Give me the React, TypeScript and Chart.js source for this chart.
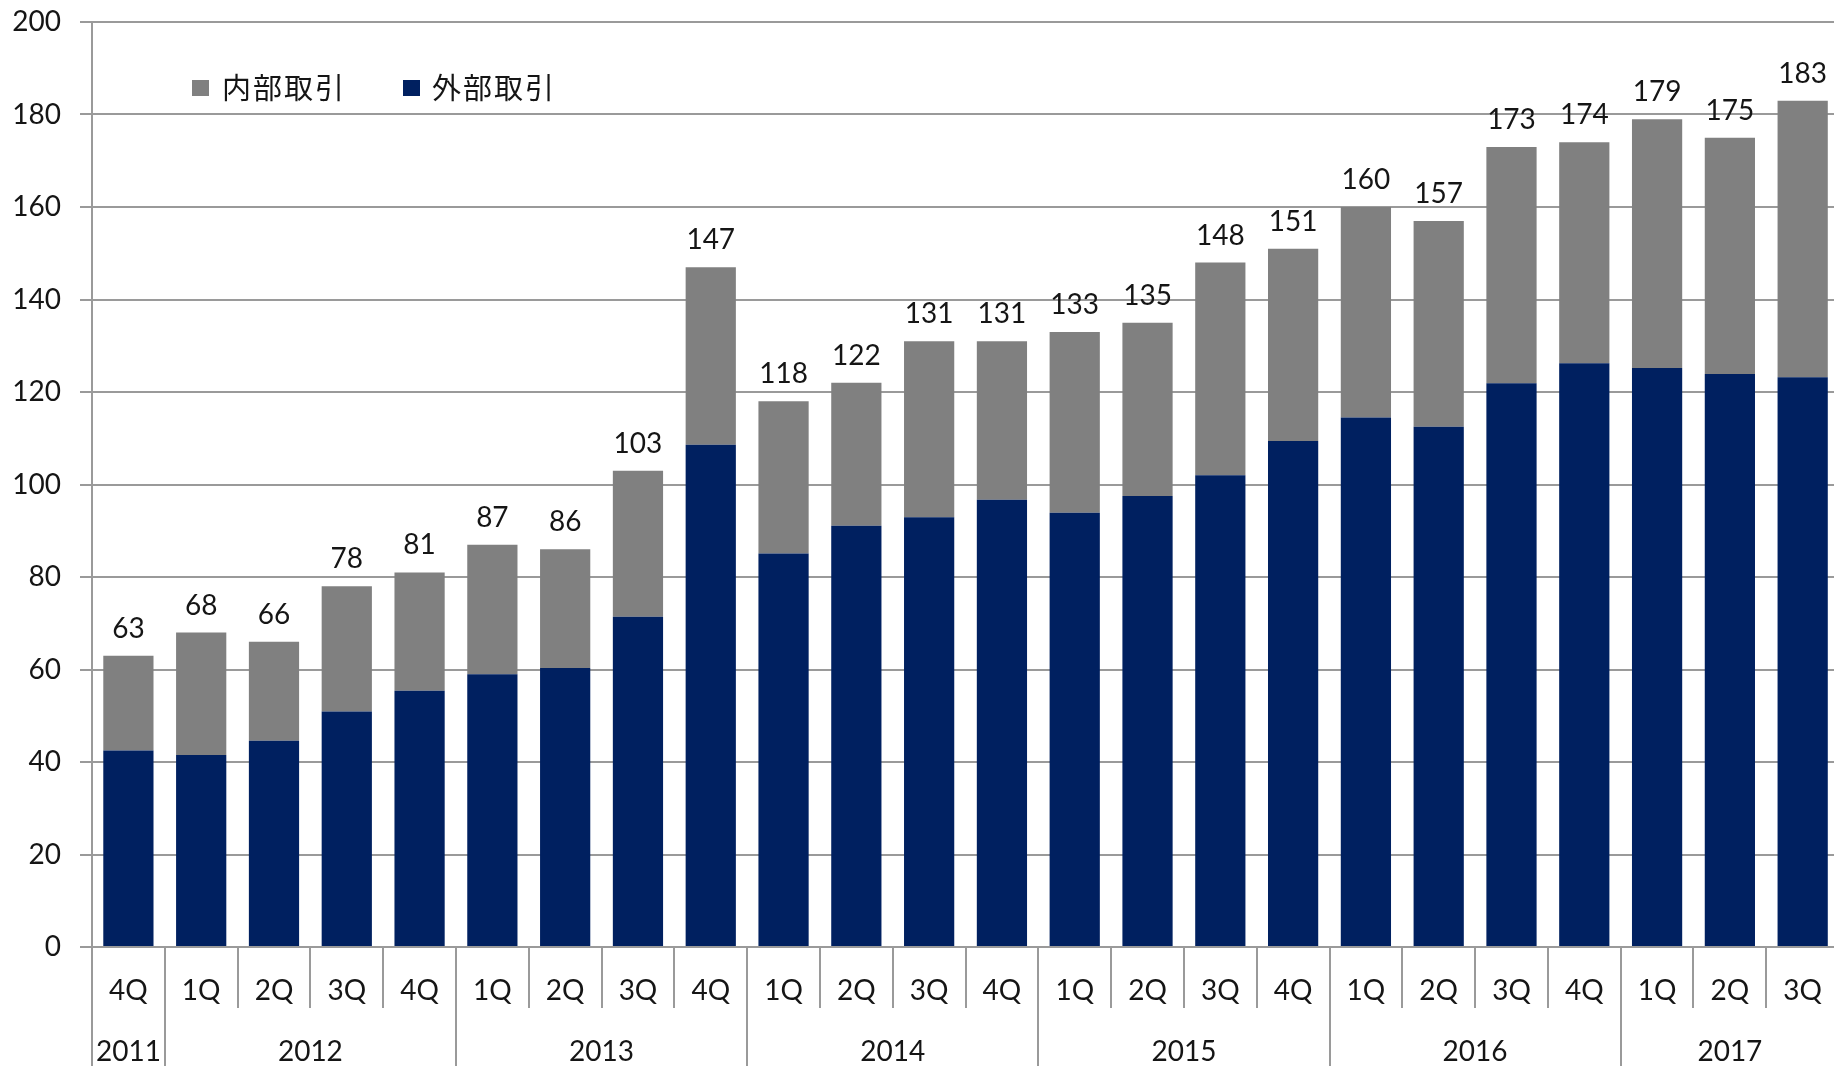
import React, { useEffect, useRef } from 'react';
import { Chart, registerables } from 'chart.js';

Chart.register(...registerables);

// ---- data ----
const quarters = ['4Q', '1Q', '2Q', '3Q', '4Q', '1Q', '2Q', '3Q', '4Q', '1Q', '2Q', '3Q', '4Q', '1Q', '2Q', '3Q', '4Q', '1Q', '2Q', '3Q', '4Q', '1Q', '2Q', '3Q'];
const years = ['2011', '2012', '2013', '2014', '2015', '2016', '2017'];
const quartersPerYear = [1, 4, 4, 4, 4, 4, 3];
const externalDeals = [42.5, 41.5, 44.6, 50.9, 55.4, 59.0, 60.3, 71.4, 108.6, 85.1, 91.1, 92.9, 96.7, 93.9, 97.5, 102.0, 109.4, 114.5, 112.5, 121.9, 126.2, 125.2, 123.9, 123.2];
const totals = [63, 68, 66, 78, 81, 87, 86, 103, 147, 118, 122, 131, 131, 133, 135, 148, 151, 160, 157, 173, 174, 179, 175, 183];
const internalDeals = totals.map((t, i) => Math.round((t - externalDeals[i]) * 10) / 10);
const labelInternal = '内部取引';
const labelExternal = '外部取引';
const yMin = 0;
const yMax = 200;
const yStep = 20;

const GRID = '#9a9a9a';
const TEXT = '#151515';
const FONT_FAMILY = 'Lato, "Noto Sans CJK JP", sans-serif';
const CJK_FAMILY = '"Noto Sans CJK JP", sans-serif';
const FONT_SIZE = 28;

const overlayPlugin = {
  id: 'overlay',
  afterDraw(chart: any) {
    const ctx = chart.ctx;
    const x = chart.scales.x;
    const area = chart.chartArea;
    const n = chart.data.labels.length;
    const band = n > 1 ? x.getPixelForTick(1) - x.getPixelForTick(0) : area.right - area.left;
    const boundary = (i: number) => x.getPixelForTick(0) - band / 2 + i * band;

    ctx.save();
    const yearStarts = new Set<number>();
    let acc = 0;
    quartersPerYear.forEach((q) => {
      yearStarts.add(acc);
      acc += q;
    });
    ctx.strokeStyle = GRID;
    ctx.lineWidth = 2;
    for (let i = 0; i < n; i++) {
      const bx = Math.round(boundary(i));
      const yEnd = yearStarts.has(i) ? chart.height : area.bottom + 61;
      ctx.beginPath();
      ctx.moveTo(bx, area.bottom);
      ctx.lineTo(bx, yEnd);
      ctx.stroke();
    }
    ctx.fillStyle = TEXT;
    ctx.font = `${FONT_SIZE}px ${FONT_FAMILY}`;
    ctx.textAlign = 'center';
    ctx.textBaseline = 'middle';
    let start = 0;
    years.forEach((yr, k) => {
      const end = start + quartersPerYear[k];
      const cx = (boundary(start) + boundary(end)) / 2;
      ctx.fillText(yr, cx, area.bottom + 105);
      start = end;
    });

    const topMeta = chart.getDatasetMeta(1);
    ctx.textBaseline = 'alphabetic';
    for (let i = 0; i < n; i++) {
      let sum = 0;
      chart.data.datasets.forEach((ds: any) => (sum += ds.data[i]));
      const el = topMeta.data[i];
      ctx.fillText(String(Math.round(sum)), el.x, el.y - 18);
    }

    const items = [chart.data.datasets[1], chart.data.datasets[0]];
    const legendPos = [
      { sx: 192, tx: 222 },
      { sx: 403, tx: 432 },
    ];
    ctx.font = `29px ${CJK_FAMILY}`;
    ctx.textAlign = 'left';
    ctx.textBaseline = 'middle';
    try {
      (ctx as any).letterSpacing = '2px';
    } catch (e) {}
    items.forEach((ds: any, k: number) => {
      ctx.fillStyle = ds.backgroundColor;
      ctx.fillRect(legendPos[k].sx, 80, 17, 16);
      ctx.fillStyle = TEXT;
      ctx.fillText(ds.label, legendPos[k].tx, 88);
    });
    ctx.restore();
  },
};

export default function App() {
  const ref = useRef<HTMLCanvasElement | null>(null);

  useEffect(() => {
    if (!ref.current) return;
    const chart = new Chart(ref.current, {
      type: 'bar',
      data: {
        labels: quarters,
        datasets: [
          {
            label: labelExternal,
            data: externalDeals,
            backgroundColor: '#002060',
            borderWidth: 0,
            barPercentage: 0.69,
            categoryPercentage: 1,
          },
          {
            label: labelInternal,
            data: internalDeals,
            backgroundColor: '#808080',
            borderWidth: 0,
            barPercentage: 0.69,
            categoryPercentage: 1,
          },
        ],
      },
      options: {
        responsive: false,
        animation: false,
        devicePixelRatio: 1,
        layout: { padding: { top: 22, right: 0, bottom: 0, left: 0 } },
        plugins: {
          legend: { display: false },
          tooltip: { enabled: false },
        },
        scales: {
          x: {
            stacked: true,
            offset: true,
            grid: { display: false, drawTicks: false },
            border: { display: true, color: GRID, width: 2 },
            ticks: {
              color: TEXT,
              font: { family: FONT_FAMILY, size: FONT_SIZE },
              padding: 27,
              maxRotation: 0,
              autoSkip: false,
            },
            afterFit(scale: any) {
              scale.height = 119;
            },
          },
          y: {
            stacked: true,
            min: yMin,
            max: yMax,
            grid: { color: GRID, lineWidth: 2, tickLength: 12, drawTicks: true },
            border: { display: true, color: GRID, width: 2 },
            ticks: {
              stepSize: yStep,
              color: TEXT,
              font: { family: FONT_FAMILY, size: FONT_SIZE },
              padding: 19,
            },
            afterFit(scale: any) {
              scale.width = 92;
              scale.paddingTop = 0;
            },
          },
        },
      },
      plugins: [overlayPlugin],
    });
    return () => chart.destroy();
  }, []);

  return (
    <div
      style={{
        position: 'fixed',
        left: 0,
        top: 0,
        width: 1834,
        height: 1066,
        overflow: 'hidden',
        background: '#fff',
      }}
    >
      <canvas ref={ref} width={1849} height={1066} style={{ display: 'block' }} />
    </div>
  );
}
